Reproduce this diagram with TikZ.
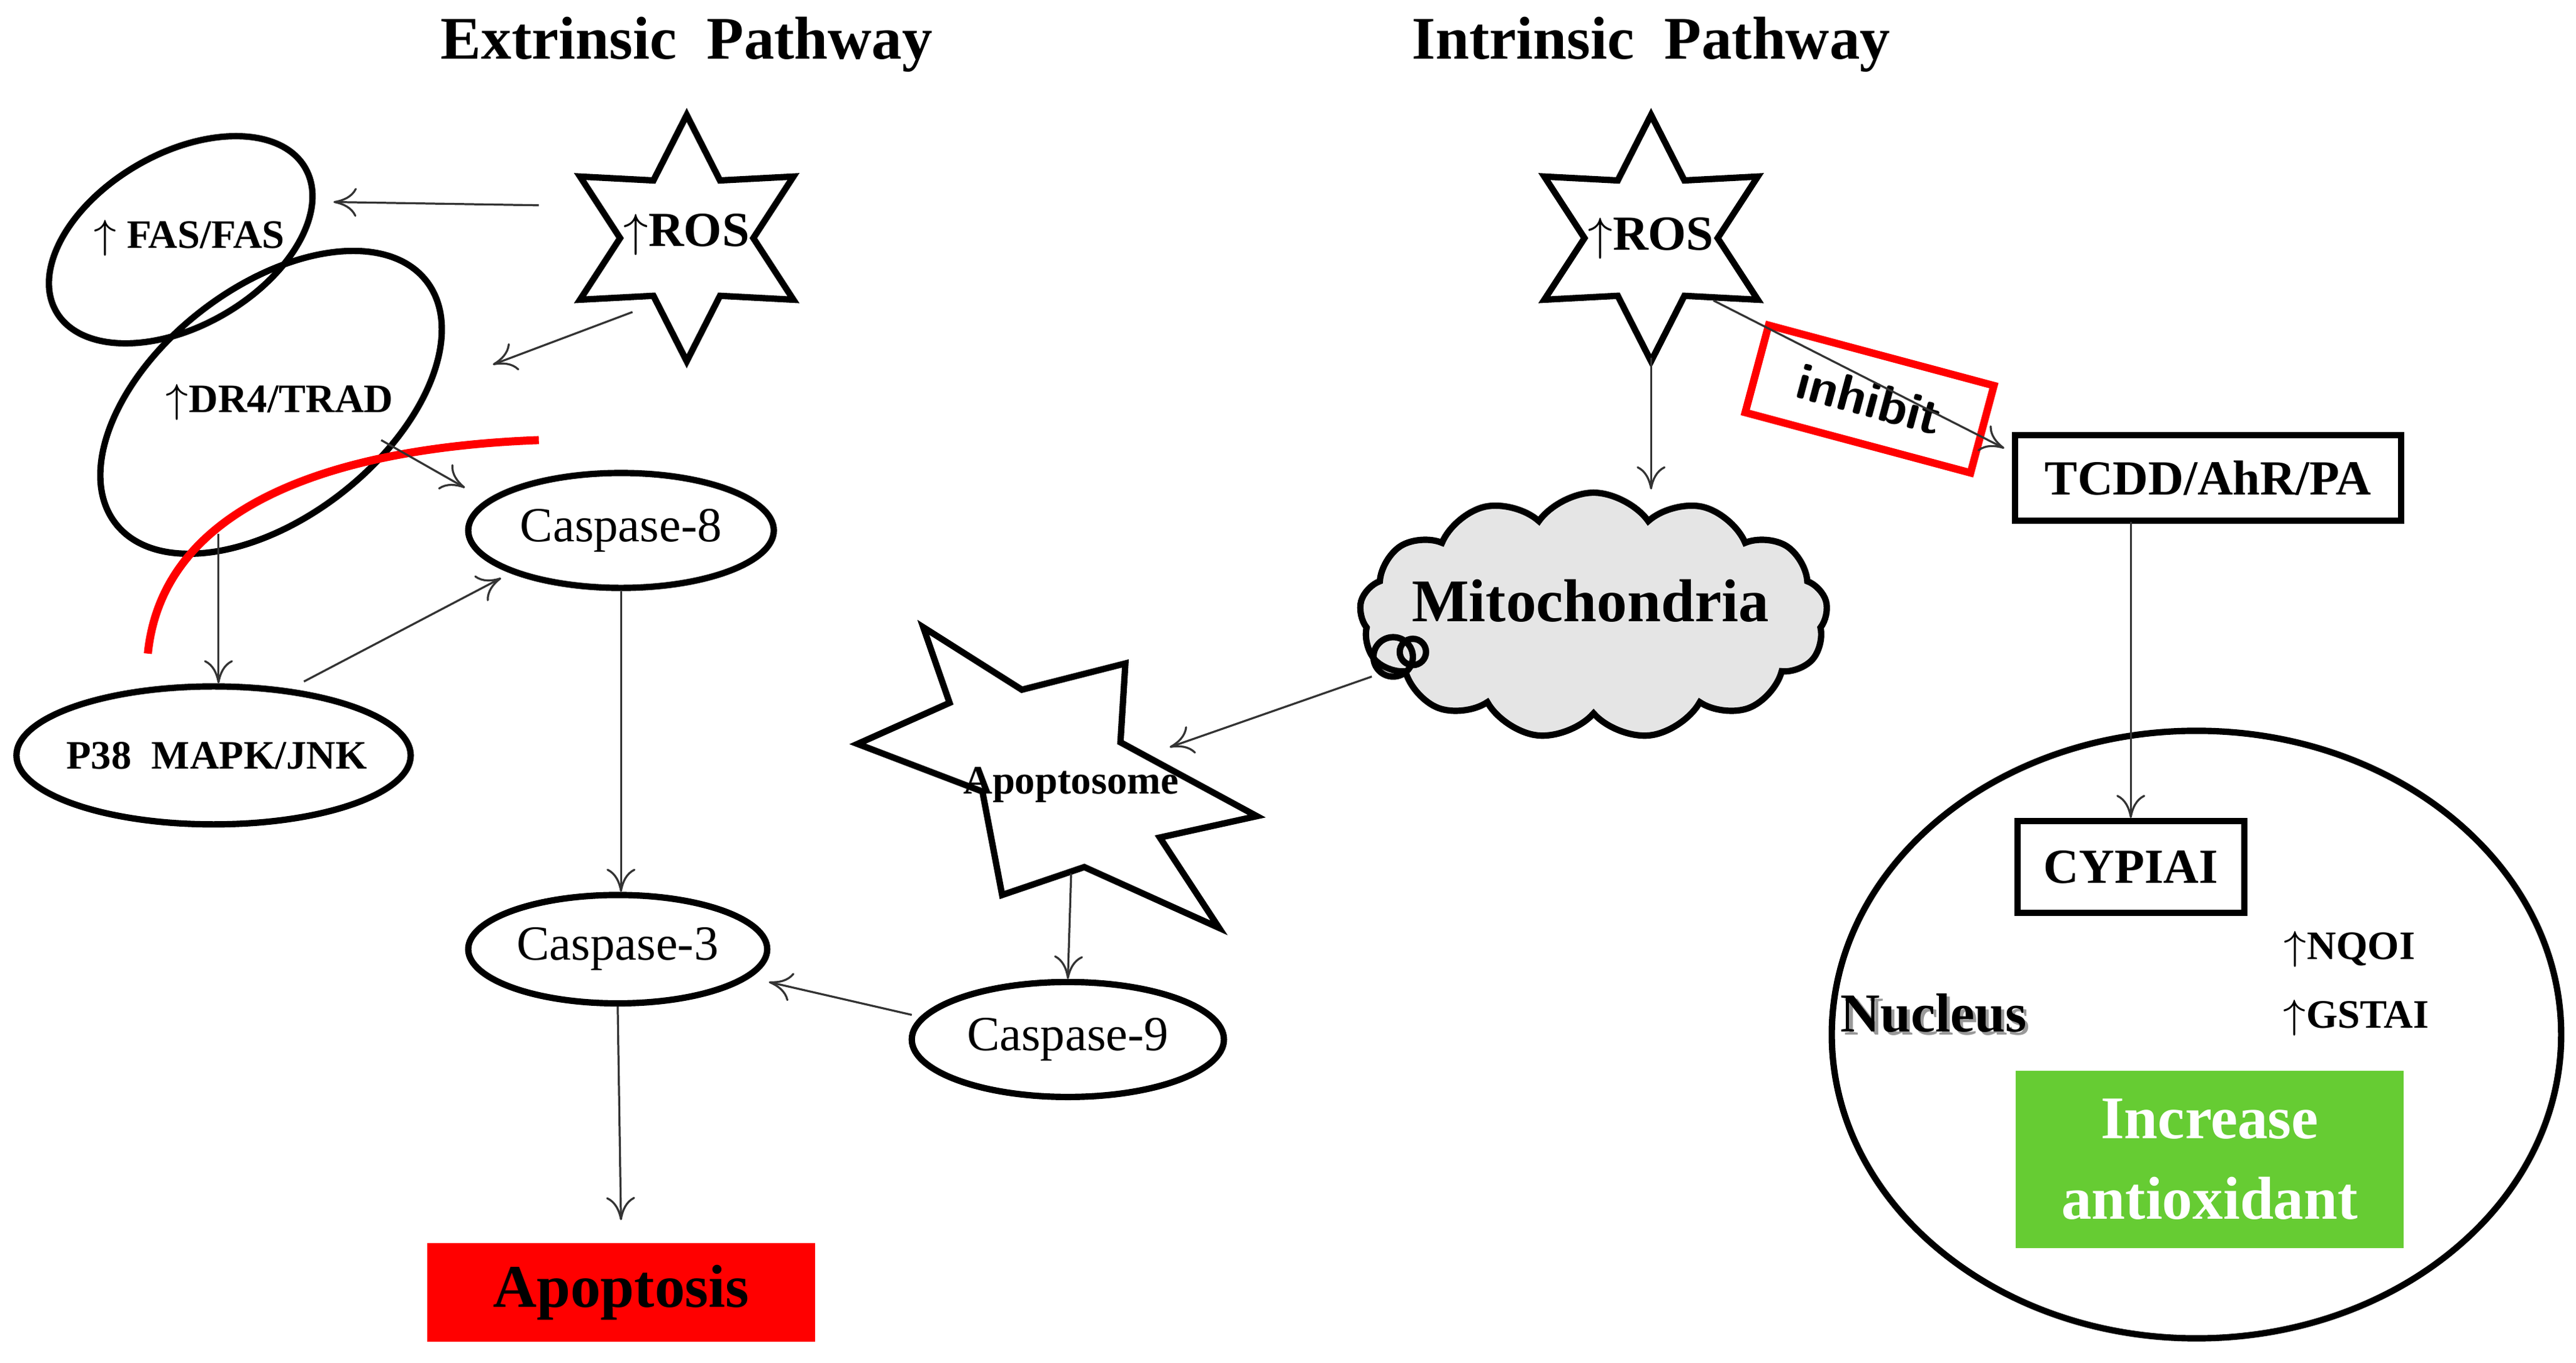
\documentclass[tikz,border=0pt]{standalone}
\usepackage{fontspec}
\setmainfont{Liberation Serif}
\usetikzlibrary{shapes.geometric,shapes.symbols,arrows.meta}
\begin{document}
\begin{tikzpicture}[x=0.1mm,y=-0.1mm,
  sh/.style={draw,line width=1.1pt},
  el/.style={sh,ellipse,inner sep=0pt},
  ar/.style={-{To[length=4pt,width=5pt]},line width=0.35pt,draw=black!80},
  bt/.style={font=\bfseries\fontsize{7}{8}\selectfont},
  ct/.style={font=\fontsize{8.5}{10}\selectfont}]
\useasboundingbox (0,0) rectangle (1568,830);
\node[font=\bfseries\fontsize{10.5}{12}\selectfont] (h1) at (418,27) {Extrinsic\ \ Pathway};
\node[font=\bfseries\fontsize{10.5}{12}\selectfont] (h2) at (1005,27) {Intrinsic\ \ Pathway};
% extrinsic
\node[el,minimum width=17.5mm,minimum height=10.5mm,rotate=30] (fas) at (110,146) {};
\node[bt] at (115,145) {$\uparrow$\ FAS/FAS};
\node[el,minimum width=24mm,minimum height=14mm,rotate=38] (dr4) at (165,245) {};
\node[bt] at (170,245) {$\uparrow$DR4/TRAD};
\node[sh,star,star points=6,star point ratio=1.85,minimum size=15mm,inner sep=0pt,fill=white] (ros1) at (418,145) {};
\node[font=\bfseries\fontsize{8.5}{10}\selectfont] at (418,143) {$\uparrow$ROS};
\node[el,minimum width=18.6mm,minimum height=7mm] (c8) at (378,323) {};
\node[ct] at (378,323) {Caspase-8};
\node[el,minimum width=24mm,minimum height=8.4mm] (p38) at (130,460) {};
\node[bt] at (132,460) {P38\ \ MAPK/JNK};
\node[el,minimum width=18.2mm,minimum height=6.6mm] (c3) at (376,578) {};
\node[ct] at (376,578) {Caspase-3};
\node[el,minimum width=19mm,minimum height=7mm] (c9) at (650,633) {};
\node[ct] at (650,633) {Caspase-9};
\node[fill=red,minimum width=23.6mm,minimum height=6mm,font=\bfseries\fontsize{10.5}{12}\selectfont] (apo) at (378,787) {Apoptosis};
\draw[sh,fill=white] (562,382)--(622,420)--(685,404)--(682,452)--(765,497)--(706,510)--(742,565)--(660,528)--(610,545)--(598,482)--(522,453)--(578,428)--cycle;
\node[bt] (aps) at (652,478) {Apoptosome};
\draw[red,line width=1.4pt] (90,398) .. controls (100,300) and (220,272) .. (328,268);
% intrinsic
\node[sh,star,star points=6,star point ratio=1.85,minimum size=15mm,inner sep=0pt,fill=white] (ros2) at (1005,145) {};
\node[font=\bfseries\fontsize{8.5}{10}\selectfont] at (1005,145) {$\uparrow$ROS};
\node[sh,cloud,cloud puffs=13,cloud puff arc=110,aspect=2,minimum width=28.5mm,minimum height=15mm,inner sep=0pt,fill=black!10] (mito) at (970,375) {};
\node[font=\bfseries\fontsize{10.5}{12}\selectfont] at (968,366) {Mitochondria};
\draw[line width=1.1pt] (848,400) circle (12);
\draw[line width=1.1pt] (860,397) circle (8);
\node[draw=red,line width=1.3pt,rotate=-15,minimum width=14.2mm,minimum height=5.5mm,font=\bfseries\sffamily\fontsize{9}{11}\selectfont] (inh) at (1138,243) {inhibit};
\node[sh,minimum width=23.5mm,minimum height=5.2mm,font=\bfseries\fontsize{8.5}{10}\selectfont] (tcdd) at (1344,291) {TCDD/AhR/PA};
\node[sh,ellipse,minimum width=44.4mm,minimum height=37mm] (nuc) at (1337,630) {};
\node[sh,minimum width=13.8mm,minimum height=5.6mm,font=\bfseries\fontsize{8.5}{10}\selectfont] (cyp) at (1297,528) {CYPIAI};
\node[bt] at (1430,578) {$\uparrow$NQOI};
\node[bt] at (1434,620) {$\uparrow$GSTAI};
\node[font=\bfseries\fontsize{9.5}{11}\selectfont,text=black!40] at (1179,619) {Nucleus};
\node[font=\bfseries\fontsize{9.5}{11}\selectfont] at (1177,617) {Nucleus};
\node[fill={rgb,255:red,102;green,204;blue,51},minimum width=23.6mm,minimum height=10.8mm,text=white,align=center,font=\bfseries\fontsize{10.5}{14}\selectfont] (inc) at (1345,706) {Increase\\antioxidant};
% arrows
\coordinate (a1) at (328,125); \coordinate (a1e) at (203,123);
\draw[ar] (a1) -- (a1e);
\coordinate (a2) at (385,190); \coordinate (a2e) at (300,222);
\draw[ar] (a2) -- (a2e);
\coordinate (a3) at (232,268); \coordinate (a3e) at (283,297);
\draw[ar] (a3) -- (a3e);
\coordinate (a4) at (133,325);
\draw[ar] (a4) -- (p38.north -| a4);
\coordinate (a5) at (185,415); \coordinate (a5e) at (305,352);
\draw[ar] (a5) -- (a5e);
\draw[ar] (c8.south) -- (c3.north -| c8.south);
\coordinate (a7e) at (378,743);
\draw[ar] (c3.south) -- (a7e);
\coordinate (a8) at (555,618); \coordinate (a8e) at (468,598);
\draw[ar] (a8) -- (a8e);
\coordinate (a9) at (652,532);
\draw[ar] (a9) -- (c9.north);
\coordinate (a10) at (835,412); \coordinate (a10e) at (712,455);
\draw[ar] (a10) -- (a10e);
\coordinate (a11) at (1005,218); \coordinate (a11e) at (1005,298);
\draw[ar] (a11) -- (a11e);
\coordinate (a12) at (1043,183); \coordinate (a12e) at (1220,273);
\draw[ar] (a12) -- (a12e);
\coordinate (a13) at (1297,318);
\draw[ar] (a13) -- (cyp.north);
\end{tikzpicture}
\end{document}
